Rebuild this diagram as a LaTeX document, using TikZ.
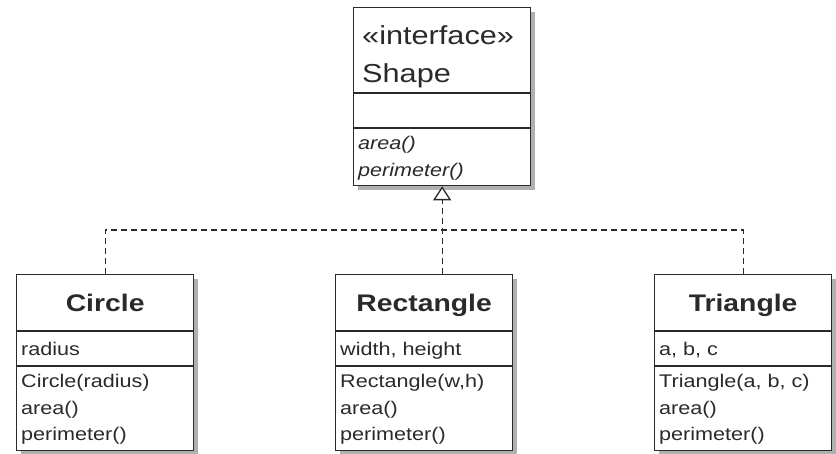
\documentclass[tikz,border=0pt]{standalone}
\usepackage{fontspec}
\setmainfont{Liberation Sans}[FakeStretch=1.18]
\usetikzlibrary{arrows.meta}
\definecolor{ink}{HTML}{2A2A2A}
\definecolor{shade}{HTML}{B0B0B0}
\tikzset{
  classbox/.style={draw=ink, line width=1.3pt, fill=white, rectangle, inner sep=0pt,
    minimum width=177pt, minimum height=#1, anchor=north west},
  shadowfill/.style={fill=shade},
  divider/.style={draw=ink, line width=1.3pt},
  classname/.style={font=\bfseries\fontsize{24}{28}\selectfont, text=ink, inner sep=0pt, anchor=base},
  stereo/.style={font=\fontsize{26}{30}\selectfont, text=ink, inner sep=0pt, anchor=base west},
  member/.style={font=\fontsize{18.3}{22}\selectfont, text=ink, inner sep=0pt, anchor=base west},
  imember/.style={font=\itshape\fontsize{18.3}{22}\selectfont, text=ink, inner sep=0pt, anchor=base west},
  realize/.style={draw=ink, line width=1.3pt, dash pattern=on 6pt off 4pt}
}
\begin{document}
\begin{tikzpicture}[x=1pt,y=-1pt]
\fill[white] (0,0) rectangle (836,454);
\useasboundingbox (0,0) rectangle (836,454);

% shadows
\fill[shadowfill] (358,12) rectangle (535,190);
\fill[shadowfill] (21,279) rectangle (198,455);
\fill[shadowfill] (340,279) rectangle (517,455);
\fill[shadowfill] (659,279) rectangle (836,455);

% Shape interface
\node[classbox=178pt] (shp) at (353,7) {};
\draw[divider] (shp.west |- 0,93) -- (shp.east |- 0,93);
\draw[divider] (shp.west |- 0,128) -- (shp.east |- 0,128);
\node[stereo] (shpstereo) at (362,45) {«interface»};
\node[stereo] (shpname) at (362,83) {Shape};
\node[imember] (shpop1) at (358,150) {area()};
\node[imember] (shpop2) at (358,177) {perimeter()};

% Circle
\node[classbox=176pt] (cir) at (16,274) {};
\draw[divider] (cir.west |- 0,331) -- (cir.east |- 0,331);
\draw[divider] (cir.west |- 0,366) -- (cir.east |- 0,366);
\node[classname] (cirname) at (cir.north |- 0,312) {Circle};
\node[member] (cirat) at (21,356) {radius};
\node[member] (cirop1) at (21,388) {Circle(radius)};
\node[member] (cirop2) at (21,414.5) {area()};
\node[member] (cirop3) at (21,441) {perimeter()};

% Rectangle
\node[classbox=176pt] (rec) at (335,274) {};
\draw[divider] (rec.west |- 0,331) -- (rec.east |- 0,331);
\draw[divider] (rec.west |- 0,366) -- (rec.east |- 0,366);
\node[classname] (recname) at (rec.north |- 0,312) {Rectangle};
\node[member] (recat) at (340,356) {width, height};
\node[member] (recop1) at (340,388) {Rectangle(w,h)};
\node[member] (recop2) at (340,414.5) {area()};
\node[member] (recop3) at (340,441) {perimeter()};

% Triangle
\node[classbox=176pt] (tri) at (654,274) {};
\draw[divider] (tri.west |- 0,331) -- (tri.east |- 0,331);
\draw[divider] (tri.west |- 0,366) -- (tri.east |- 0,366);
\node[classname] (triname) at (tri.north |- 0,312) {Triangle};
\node[member] (triat) at (659,356) {a, b, c};
\node[member] (triop1) at (659,388) {Triangle(a, b, c)};
\node[member] (triop2) at (659,414.5) {area()};
\node[member] (triop3) at (659,441) {perimeter()};

% realization connectors
\coordinate (junc) at (shp.south |- 0,230);
\draw[realize] (cir.north) |- (junc) -| (tri.north);
\draw[realize, -{Triangle[open, width=18pt, length=14pt, fill=white]}] (junc |- rec.north) -- (shp.south);
\end{tikzpicture}
\end{document}
